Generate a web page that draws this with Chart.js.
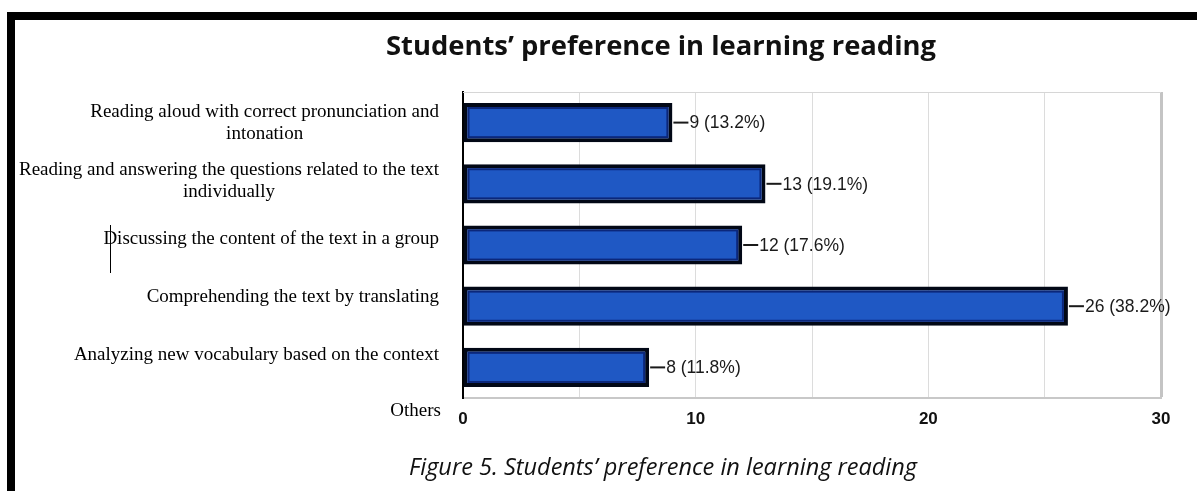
<!DOCTYPE html>
<html><head><meta charset="utf-8">
<script src="https://cdn.jsdelivr.net/npm/chart.js@4/dist/chart.umd.min.js"></script>
<style>
html,body{margin:0;padding:0;background:#fff;}
#wrap{position:relative;width:1197px;height:491px;overflow:hidden;background:#fff;}
#topbar{position:absolute;left:7px;top:12px;width:1190px;height:8px;background:#000;}
#leftbar{position:absolute;left:7px;top:12px;width:8px;height:479px;background:#000;}
#title{position:absolute;left:261px;width:800px;top:28px;line-height:34px;text-align:center;font-family:'Open Sans',Lato,sans-serif;font-weight:bold;font-size:27.4px;color:#111;}
#caption{position:absolute;left:263px;width:800px;top:450px;line-height:32px;text-align:center;font-family:'Open Sans',Lato,sans-serif;font-style:italic;font-size:23.5px;color:#111;}
#cursor{position:absolute;left:110px;top:225px;width:1px;height:48px;background:#000;}
canvas{position:absolute;left:0;top:0;}
</style></head>
<body>
<div id="wrap">
<canvas id="c" width="1197" height="491"></canvas>
<div id="topbar"></div>
<div id="leftbar"></div>
<div id="title">Students’ preference in learning reading</div>
<div id="caption">Figure 5. Students’ preference in learning reading</div>
<div id="cursor"></div>
</div>
<script>
const categories = [
  ["Reading aloud with correct pronunciation and", "intonation"],
  ["Reading and answering the questions related to the text", "individually"],
  ["Discussing the content of the text in a group"],
  ["Comprehending the text by translating"],
  ["Analyzing new vocabulary based on the context"]
];
const counts = [9, 13, 12, 26, 8];
const percents = ["13.2", "19.1", "17.6", "38.2", "11.8"];
const xTicks = [0, 10, 20, 30];
const extraLabel = "Others";

const labelPlugin = {
  id: 'labels',
  afterDatasetsDraw(chart) {
    const ctx = chart.ctx;
    const meta = chart.getDatasetMeta(0);
    const yScale = chart.scales.y;
    const xScale = chart.scales.x;
    ctx.save();
    // inner glow of bars
    meta.data.forEach((el) => {
      const h = el.height;
      const l = Math.min(el.base, el.x), r = Math.max(el.base, el.x);
      ctx.strokeStyle = 'rgba(8,30,110,0.85)';
      ctx.lineWidth = 2;
      ctx.strokeRect(l + 5, el.y - h / 2 + 5, r - l - 10, h - 10);
    });
    // value labels
    meta.data.forEach((el, i) => {
      ctx.strokeStyle = '#1a1a1a';
      ctx.lineWidth = 2;
      ctx.beginPath();
      ctx.moveTo(el.x + 1, el.y);
      ctx.lineTo(el.x + 16, el.y);
      ctx.stroke();
      ctx.fillStyle = '#1a1a1a';
      ctx.font = '17.5px "Liberation Sans", Arial, sans-serif';
      ctx.textAlign = 'left';
      ctx.textBaseline = 'middle';
      ctx.fillText(counts[i] + ' (' + percents[i] + '%)', el.x + 17, el.y + 1);
    });
    // category labels (right-aligned block, lines centered in block)
    ctx.font = '19px "Liberation Serif", "Times New Roman", serif';
    ctx.fillStyle = '#000';
    ctx.textBaseline = 'middle';
    const rightX = chart.chartArea.left - 24;
    categories.forEach((lines, i) => {
      const cy = yScale.getPixelForValue(i) - 3 * i;
      const widths = lines.map(t => ctx.measureText(t).width);
      const w = Math.max(...widths);
      const center = rightX - w / 2;
      const lh = 22;
      lines.forEach((t, j) => {
        ctx.textAlign = 'center';
        ctx.fillText(t, center, cy + (j - (lines.length - 1) / 2) * lh);
      });
    });
    ctx.textAlign = 'right';
    ctx.fillText(extraLabel, chart.chartArea.left - 22, xScale.bottom - 80);
    // top border of plot
    ctx.strokeStyle = '#d6d6d6';
    ctx.lineWidth = 1;
    ctx.beginPath();
    ctx.moveTo(chart.chartArea.left, chart.chartArea.top + 0.5);
    ctx.lineTo(chart.chartArea.right, chart.chartArea.top + 0.5);
    ctx.stroke();
    ctx.restore();
  }
};

new Chart(document.getElementById('c'), {
  type: 'bar',
  data: {
    labels: categories,
    datasets: [{
      data: counts,
      backgroundColor: '#1f58c4',
      borderColor: '#020816',
      borderWidth: 4,
      borderSkipped: false,
      barPercentage: 0.64,
      categoryPercentage: 1
    }]
  },
  options: {
    responsive: false,
    animation: false,
    devicePixelRatio: 1,
    indexAxis: 'y',
    layout: { padding: { left: 463, right: 36, top: 92, bottom: 0 } },
    plugins: { legend: { display: false }, tooltip: { enabled: false }, title: { display: false } },
    scales: {
      x: {
        min: 0, max: 30,
        ticks: {
          stepSize: 5, autoSkip: false, maxRotation: 0,
          callback: (v) => xTicks.includes(v) ? String(v) : '',
          font: { family: '"Liberation Sans", Arial, sans-serif', size: 17, weight: 'bold' },
          color: '#111', padding: 11
        },
        grid: {
          drawTicks: false,
          color: (c) => c.tick && c.tick.value === 30 ? '#c4c4c4' : '#dcdcdc',
          lineWidth: (c) => c.tick && c.tick.value === 30 ? 3 : 1
        },
        border: { color: '#c8c8c8', width: 2 },
        afterFit: (s) => { s.height = 93; }
      },
      y: {
        ticks: { display: false },
        grid: { display: false, drawTicks: false },
        border: { color: '#000', width: 2 },
        afterFit: (s) => { s.width = 0; }
      }
    }
  },
  plugins: [labelPlugin]
});
</script>
</body></html>
